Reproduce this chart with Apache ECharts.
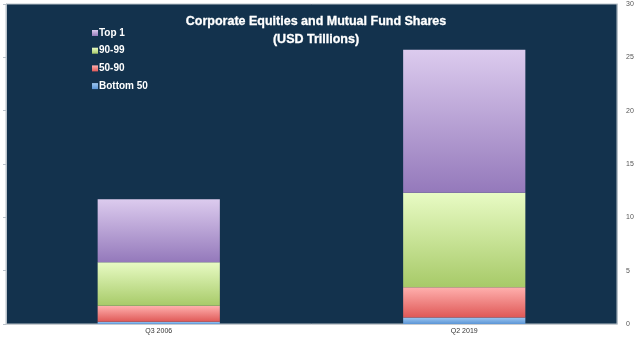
<!DOCTYPE html>
<html>
<head>
<meta charset="utf-8">
<script src="https://cdn.jsdelivr.net/npm/echarts@6/dist/echarts.min.js"></script>
<style>
  html, body { margin: 0; padding: 0; background: #ffffff; }
  #chart { width: 640px; height: 339px; }
</style>
</head>
<body>
<div id="chart"></div>
<script>
// Quarters shown on the category axis
const categories = ['Q3 2006', 'Q2 2019'];

// Holdings by wealth percentile group (USD trillions)
const bottom50 = [0.2, 0.6];
const pct50to90 = [1.5, 2.85];
const pct90to99 = [4.1, 8.85];
const top1 = [5.9, 13.4];

// Value axis ticks
const yTicks = [0, 5, 10, 15, 20, 25, 30];

function grad(top, bottom) {
  return new echarts.graphic.LinearGradient(0, 0, 0, 1, [
    { offset: 0, color: top },
    { offset: 1, color: bottom }
  ]);
}

const seriesDefs = [
  { name: 'Bottom 50', data: bottom50, c: grad('#9cc6f0', '#5b95d6'), icon: '#5b95d6' },
  { name: '50-90', data: pct50to90, c: grad('#ffb0ae', '#df5856'), icon: '#e66a68' },
  { name: '90-99', data: pct90to99, c: grad('#e8fbc4', '#a7ca68'), icon: '#b3d57a' },
  { name: 'Top 1', data: top1, c: grad('#dccbee', '#9479bb'), icon: '#9e84c4' }
];

const chart = echarts.init(document.getElementById('chart'), null, { renderer: 'canvas' });

chart.setOption({
  backgroundColor: '#ffffff',
  animation: false,
  title: {
    text: 'Corporate Equities and Mutual Fund Shares\n(USD Trillions)',
    left: 311,
    textAlign: 'center',
    top: 8,
    textStyle: {
      color: '#ffffff',
      fontFamily: 'Liberation Sans, Arial, sans-serif',
      fontWeight: 'bold',
      fontSize: 12.5,
      lineHeight: 18,
      textBorderColor: '#ffffff',
      textBorderWidth: 0.3
    }
  },
  legend: {
    orient: 'vertical',
    left: 87,
    top: 23,
    itemWidth: 6,
    itemHeight: 6,
    itemGap: 7.7,
    icon: 'rect',
    data: ['Top 1', '90-99', '50-90', 'Bottom 50'],
    textStyle: {
      color: '#ffffff',
      fontFamily: 'Liberation Sans, Arial, sans-serif',
      fontWeight: 'bold',
      fontSize: 10,
      padding: [0, 0, 0, -4]
    }
  },
  grid: {
    left: 6,
    right: 23,
    top: 4,
    bottom: 15,
    show: true,
    backgroundColor: '#13324d',
    borderColor: '#b9c2ca',
    borderWidth: 1
  },
  xAxis: {
    type: 'category',
    data: categories,
    axisLine: { show: true, lineStyle: { color: '#c8ccd0' } },
    axisTick: { show: false },
    axisLabel: {
      color: '#333333',
      fontSize: 7,
      margin: 4,
      fontFamily: 'Liberation Sans, Arial, sans-serif'
    }
  },
  yAxis: [
    {
      type: 'value',
      position: 'right',
      min: yTicks[0],
      max: yTicks[yTicks.length - 1],
      interval: 5,
      splitLine: { show: false },
      axisLine: { show: true, lineStyle: { color: '#b9c2ca' } },
      axisTick: { show: false },
      axisLabel: {
        color: '#555555',
        fontSize: 7,
        margin: 9,
        fontFamily: 'Liberation Sans, Arial, sans-serif'
      }
    },
    {
      type: 'value',
      position: 'left',
      min: yTicks[0],
      max: yTicks[yTicks.length - 1],
      interval: 5,
      splitLine: { show: false },
      axisLine: { show: true, lineStyle: { color: '#b9c2ca' } },
      axisTick: { show: true, length: 3, lineStyle: { color: '#b9c2ca' } },
      axisLabel: { show: false }
    }
  ],
  series: seriesDefs.map(s => ({
    name: s.name,
    type: 'bar',
    stack: 'total',
    barWidth: '40%',
    data: s.data,
    color: s.icon,
    itemStyle: { color: s.c },
    emphasis: { disabled: true }
  }))
});
</script>
</body>
</html>
